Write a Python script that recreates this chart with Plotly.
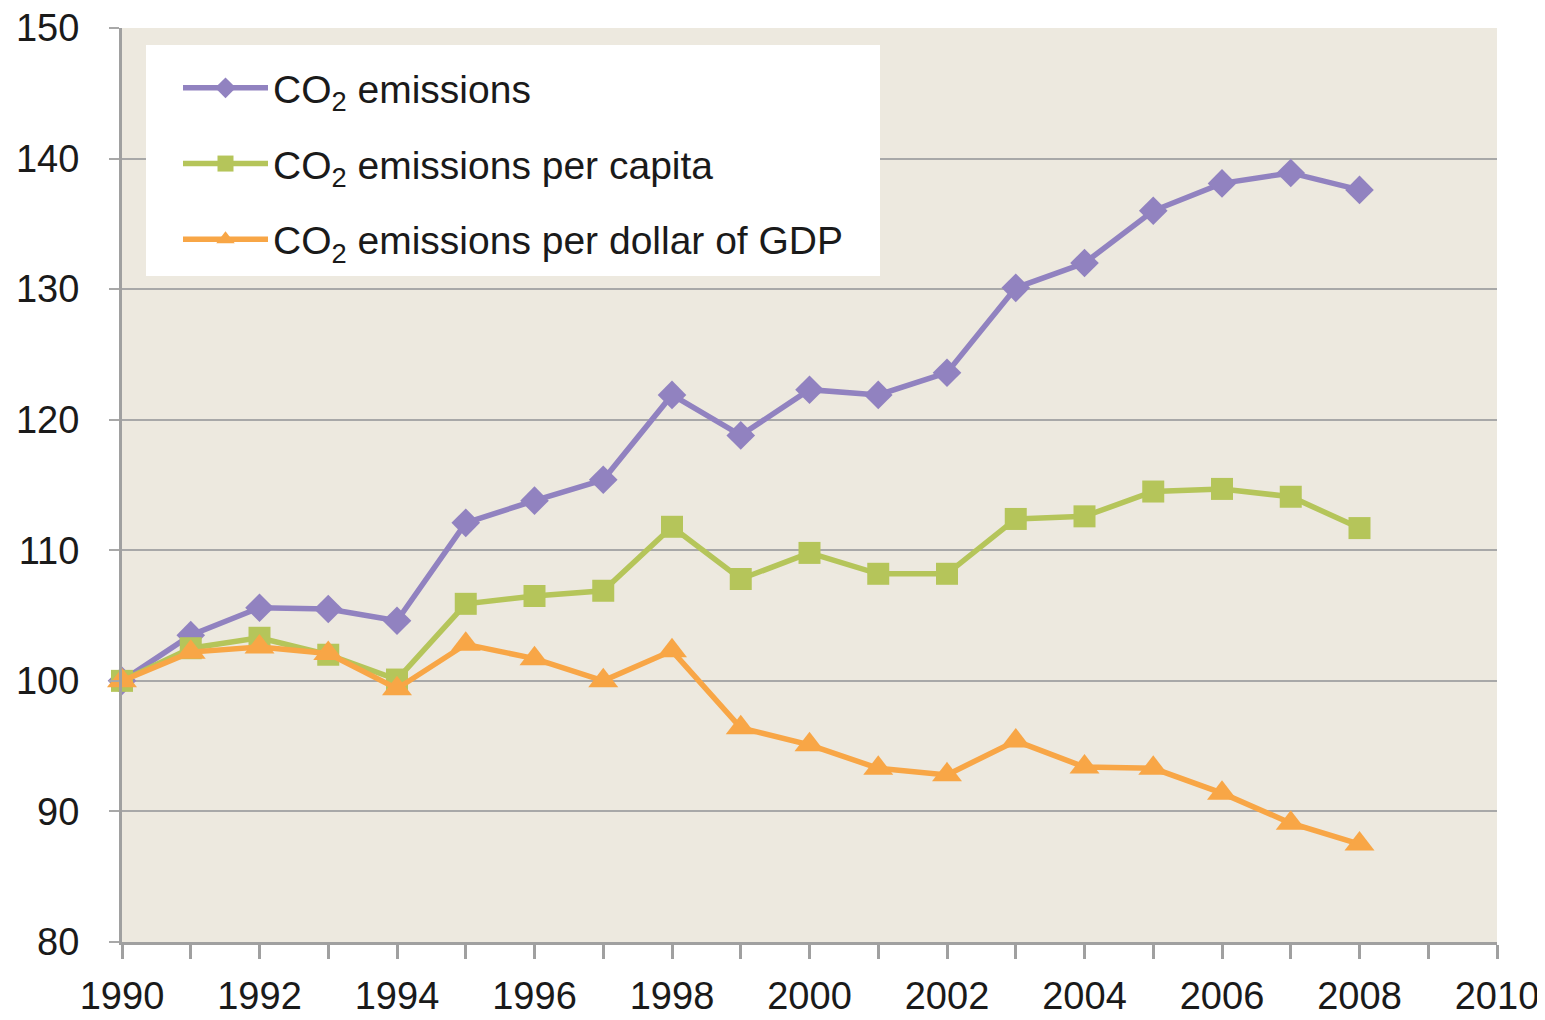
import plotly.graph_objects as go

years = list(range(1990, 2009))
co2 = [100, 103.5, 105.6, 105.5, 104.6, 112.1, 113.8, 115.4, 121.9, 118.8,
       122.3, 121.9, 123.6, 130.1, 132.0, 136.0, 138.1, 138.9, 137.6]
co2_capita = [100, 102.5, 103.3, 102.0, 100.1, 105.9, 106.5, 106.9, 111.8, 107.8,
              109.8, 108.2, 108.2, 112.4, 112.6, 114.5, 114.7, 114.1, 111.7]
co2_gdp = [100, 102.2, 102.6, 102.1, 99.4, 102.8, 101.7, 100.0, 102.3, 96.4,
           95.1, 93.3, 92.8, 95.4, 93.4, 93.3, 91.4, 89.1, 87.5]
names = ["CO<sub>2</sub> emissions", "CO<sub>2</sub> emissions per capita",
         "CO<sub>2</sub> emissions per dollar of GDP"]
x_ticks = list(range(1990, 2011, 2))
y_ticks = list(range(80, 151, 10))

colors = ["#9182C0", "#B5C55A", "#F8A646"]
symbols = ["diamond", "square", "triangle-up"]
sizes = [22, 22, 26]

FONT = "Liberation Sans, Arial, sans-serif"

# figure is placed at (8, 8) in the page
W, H = 1537, 1012
L, R, T, B = 114, 48, 20, 78
pw, ph = W - L - R, H - T - B

def px_x(x):  # page x -> paper fraction
    return (x - 8 - L) / pw

def px_y(y):  # page y -> paper fraction
    return 1 - (y - 8 - T) / ph

fig = go.Figure()
for i, (vals, name, c, s, sz) in enumerate(zip([co2, co2_capita, co2_gdp], names, colors, symbols, sizes)):
    fig.add_trace(go.Scatter(
        x=years, y=vals, name=name, mode="lines+markers",
        line=dict(color=c, width=5.5),
        marker=dict(symbol=s, size=sz, color=c),
        cliponaxis=False, legendgroup=f"g{i}",
    ))

fig.add_shape(type="rect", xref="paper", yref="paper",
              x0=px_x(146), x1=px_x(880), y0=px_y(276), y1=px_y(45),
              fillcolor="white", line=dict(width=0), layer="above")

fig.update_layout(
    width=W, height=H,
    margin=dict(l=L, r=R, t=T, b=B, autoexpand=False),
    paper_bgcolor="white",
    plot_bgcolor="#EDE9DF",
    font=dict(family=FONT, size=38, color="#1a1a1a"),
    legend=dict(
        x=px_x(178), y=px_y(56), xanchor="left", yanchor="top",
        bgcolor="rgba(0,0,0,0)", font=dict(size=39, family=FONT, color="#1a1a1a"),
        tracegroupgap=22, itemwidth=85,
    ),
    showlegend=True,
)
fig.update_xaxes(
    range=[1990, 2010], tickvals=x_ticks, ticktext=[str(v) for v in x_ticks],
    showgrid=False, showline=True, linecolor="#A0A0A0", linewidth=3,
    ticks="outside", ticklen=14, tickwidth=3, tickcolor="#A0A0A0",
    minor=dict(dtick=1, tick0=1990, ticks="outside", ticklen=14, tickwidth=3, tickcolor="#A0A0A0", showgrid=False),
    zeroline=False, automargin=False, ticklabelstandoff=4, ticklabeloverflow="allow",
)
fig.update_yaxes(
    range=[80, 150], tickvals=y_ticks,
    showgrid=True, gridcolor="#A8A8A8", gridwidth=2,
    showline=True, linecolor="#A0A0A0", linewidth=3,
    ticks="outside", ticklen=10, tickwidth=2, tickcolor="#A8A8A8",
    zeroline=False, automargin=False, ticklabelstandoff=22, ticklabeloverflow="allow",
)

fig.write_html("out.html")
